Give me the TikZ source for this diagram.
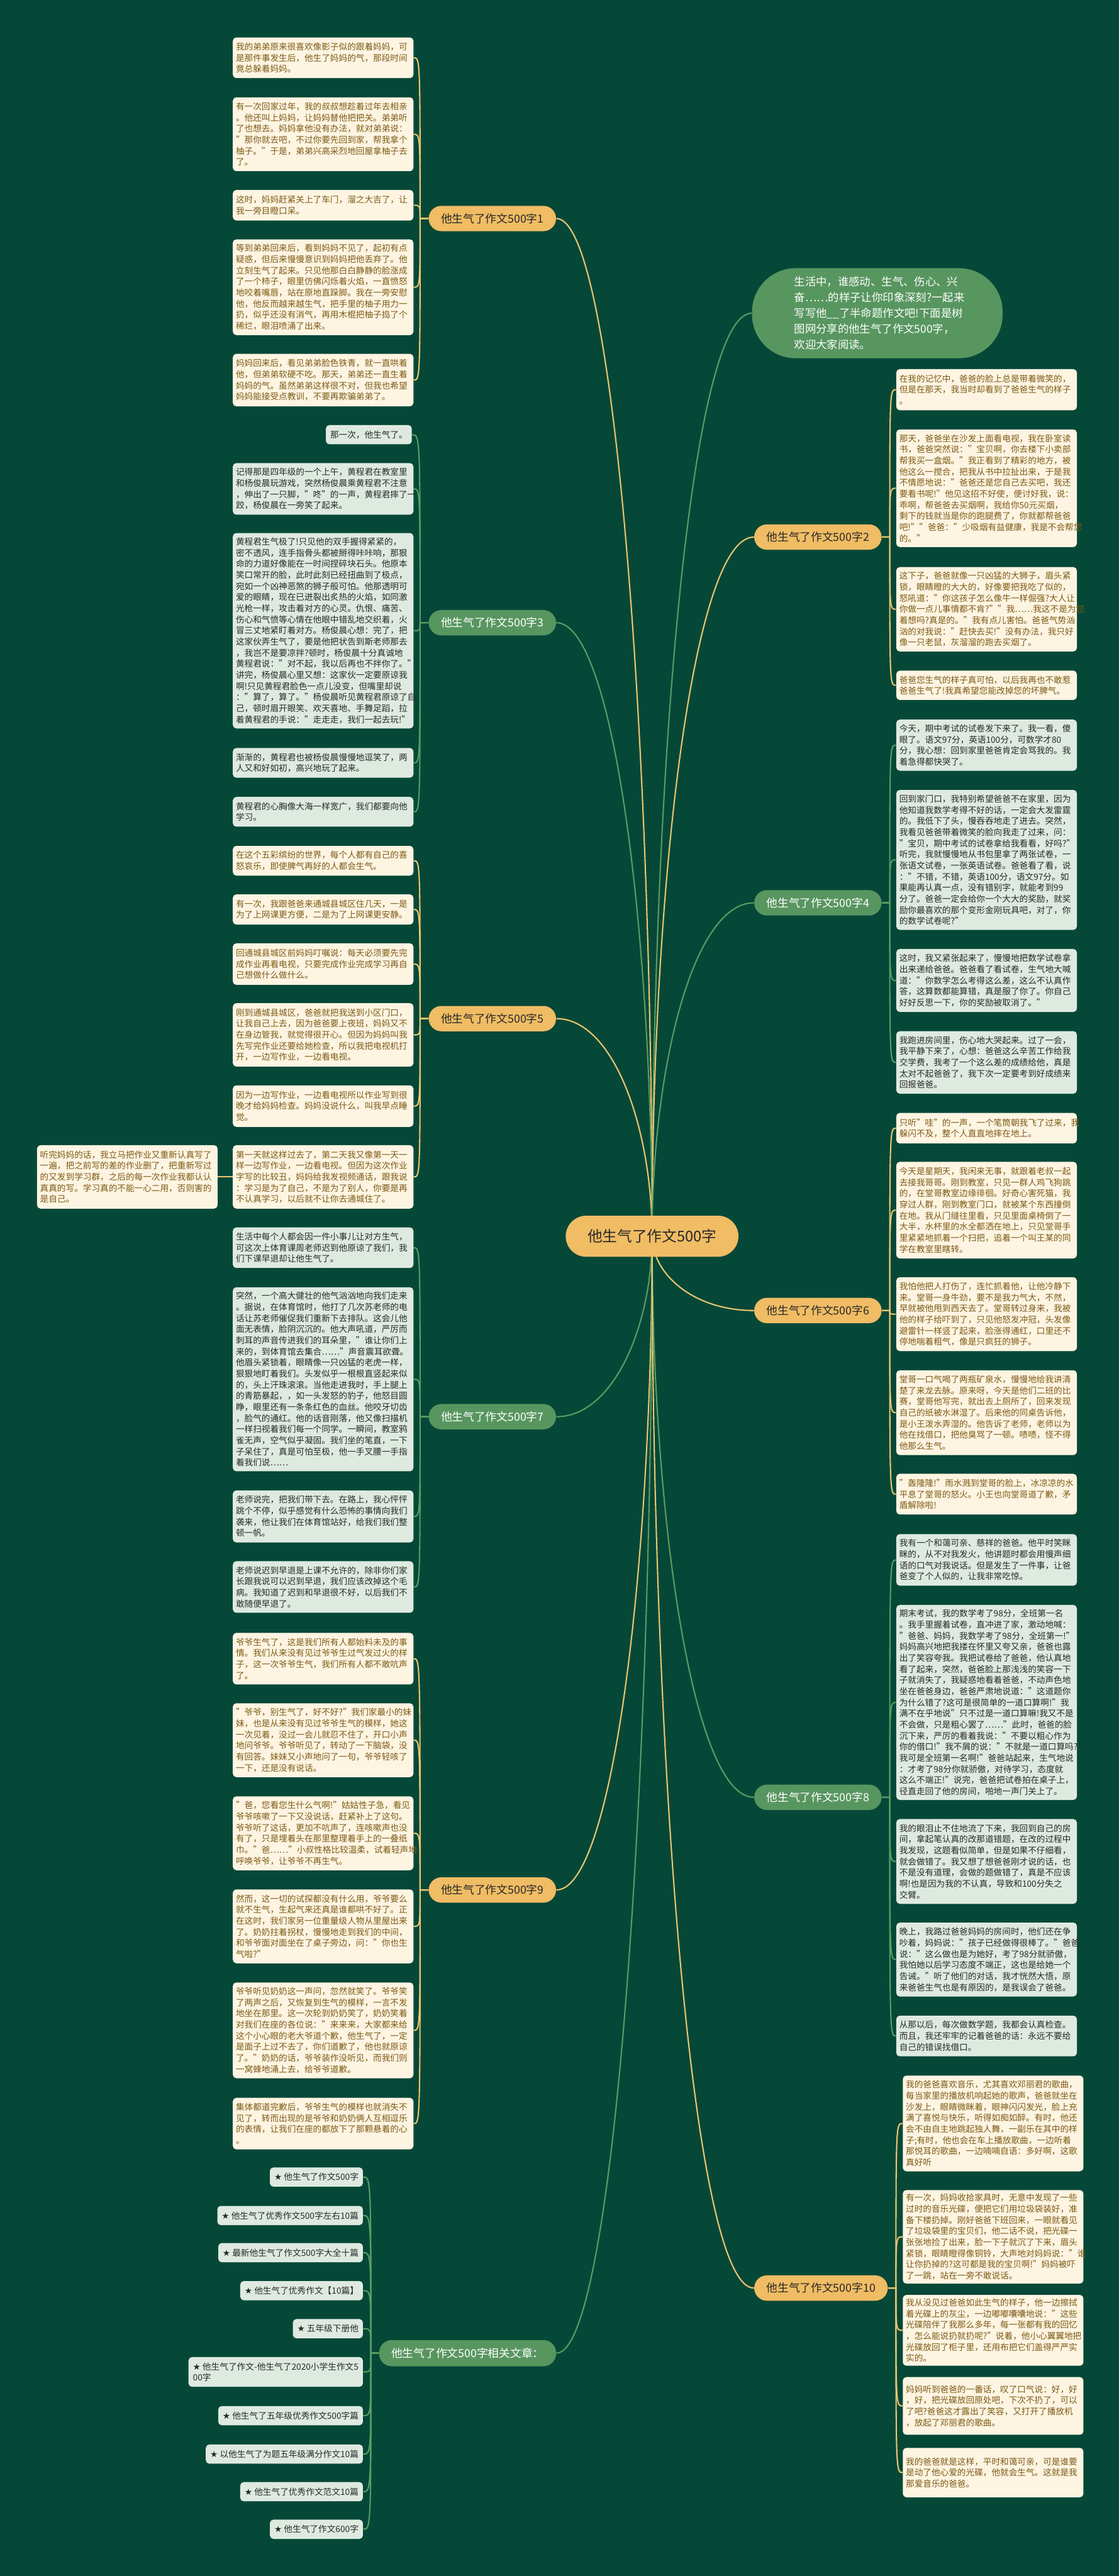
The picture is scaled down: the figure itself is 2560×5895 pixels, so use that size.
\documentclass[tikz,border=0pt]{standalone}
\usepackage{fontspec}
\setmainfont{Noto Sans CJK SC}
\newfontfamily\djv{DejaVu Sans}
\usetikzlibrary{calc}
\pgfdeclarelayer{back}\pgfdeclarelayer{bg}\pgfsetlayers{back,bg,main}
\definecolor{bgc}{RGB}{6,72,56}
\definecolor{onode}{RGB}{240,188,100}
\definecolor{oline}{RGB}{236,198,112}
\definecolor{gnode}{RGB}{88,150,96}
\definecolor{gline}{RGB}{92,156,100}
\definecolor{lcream}{RGB}{253,244,226}
\definecolor{lgreen}{RGB}{222,234,224}
\definecolor{tbrown}{RGB}{125,90,20}
\definecolor{tdark}{RGB}{40,40,40}
\newcommand\leaffnt{\fontsize{5.58pt}{7.23pt}\selectfont}
\newcommand\brfnt{\fontsize{7.26pt}{8.5pt}\selectfont}
\newcommand\cenfnt{\fontsize{9.7pt}{11pt}\selectfont}
\newcommand\relfnt{\fontsize{5.6pt}{7.1pt}\selectfont}
\newcommand\intfnt{\fontsize{7.11pt}{10.24pt}\selectfont}
\newcommand\st{{\djv ★}\ }
\tikzset{
 leafo/.style={fill=lcream, text=tbrown, rounded corners=0.08cm, text width=3.99cm, inner xsep=0.07cm, inner ysep=0pt, align=left, font=\leaffnt, anchor=north west},
 leafg/.style={leafo, fill=lgreen, text=tdark},
 bro/.style={fill=onode, text=tdark, rounded corners=0.29cm, minimum height=0.58cm, inner xsep=0.28cm, inner ysep=0pt, font=\brfnt},
 brg/.style={bro, fill=gnode, text=white},
 relitem/.style={fill=lgreen, text=tdark, rounded corners=0.08cm, minimum height=0.44cm, inner xsep=0.1cm, inner ysep=0pt, anchor=east, align=left, font=\relfnt},
 ocon/.style={draw=oline, line width=0.85pt},
 gcon/.style={draw=gline, line width=0.85pt}
}
\begin{document}
\begin{tikzpicture}[x=0.01cm,y=-0.01cm]
\useasboundingbox (0,0) rectangle (2560,5895);
\begin{pgfonlayer}{back}
\fill[bgc] (0,0) rectangle (2560,5895);
\end{pgfonlayer}

% center
\node[fill=onode, text=tdark, rounded corners=0.47cm, minimum height=0.94cm, minimum width=3.95cm, inner ysep=0pt, font=\cenfnt] (C) at (1492,2829) {他生气了作文500字};

% intro bubble
\node[fill=gnode, text=white, rounded corners=1.0cm, anchor=north west, minimum width=5.73cm, minimum height=2.06cm, text width=3.8cm, inner xsep=0.965cm, inner ysep=0pt, align=left, font=\intfnt] (Intro) at (1720,613) {生活中，谁感动、生气、伤心、兴\\奋……的样子让你印象深刻?一起来\\写写他\_\_了半命题作文吧!下面是树\\图网分享的他生气了作文500字，\\欢迎大家阅读。};

% branch nodes
\node[bro, anchor=east] (B1) at (1273,500) {他生气了作文500字1};
\node[brg, anchor=east] (B3) at (1273,1425) {他生气了作文500字3};
\node[bro, anchor=east] (B5) at (1273,2331) {他生气了作文500字5};
\node[brg, anchor=east] (B7) at (1273,3242) {他生气了作文500字7};
\node[bro, anchor=east] (B9) at (1273,4325) {他生气了作文500字9};
\node[brg, anchor=east, minimum height=0.60cm] (Rel) at (1273,5385) {他生气了作文500字相关文章：};
\node[bro, anchor=west] (B2) at (1725,1229) {他生气了作文500字2};
\node[brg, anchor=west] (B4) at (1725,2066) {他生气了作文500字4};
\node[bro, anchor=west] (B6) at (1725,2999) {他生气了作文500字6};
\node[brg, anchor=west] (B8) at (1725,4113) {他生气了作文500字8};
\node[bro, anchor=west] (B10) at (1725,5236) {他生气了作文500字10};

% branch 1
\node[leafo, minimum height=0.93cm] (L1a) at (532,85) {我的弟弟原来很喜欢像影子似的跟着妈妈，可\\是那件事发生后，他生了妈妈的气，那段时间\\竟总躲着妈妈。};
\node[leafo, minimum height=1.69cm] (L1b) at (532,222) {有一次回家过年，我的叔叔想趁着过年去相亲\\。他还叫上妈妈，让妈妈替他把把关。弟弟听\\了也想去。妈妈拿他没有办法，就对弟弟说：\\"那你就去吧，不过你要先回到家，帮我拿个\\柚子。"于是，弟弟兴高采烈地回屋拿柚子去\\了。};
\node[leafo, minimum height=0.70cm] (L1c) at (532,434) {这时，妈妈赶紧关上了车门，溜之大吉了，让\\我一旁目瞪口呆。};
\node[leafo, minimum height=2.19cm] (L1d) at (532,547) {等到弟弟回来后，看到妈妈不见了，起初有点\\疑惑，但后来慢慢意识到妈妈把他丢弃了。他\\立刻生气了起来。只见他那白白静静的脸涨成\\了一个柿子，眼里仿佛闪烁着火焰，一直愤怒\\地咬着嘴唇，站在原地直跺脚。我在一旁安慰\\他，他反而越来越生气，把手里的柚子用力一\\扔，似乎还没有消气，再用木棍把柚子捣了个\\稀烂，眼泪喷涌了出来。};
\node[leafo, minimum height=1.20cm] (L1e) at (532,809) {妈妈回来后，看见弟弟脸色铁青，就一直哄着\\他，但弟弟软硬不吃。那天，弟弟还一直生着\\妈妈的气。虽然弟弟这样很不对，但我也希望\\妈妈能接受点教训，不要再欺骗弟弟了。};

% branch 3
\node[leafg, anchor=north east, text width={}, minimum height=0.44cm, inner xsep=0.1cm] (L3a) at (943,972) {那一次，他生气了。};
\node[leafg, minimum height=1.18cm] (L3b) at (532,1059) {记得那是四年级的一个上午，黄程君在教室里\\和杨俊晨玩游戏，突然杨俊晨乘黄程君不注意\\，伸出了一只脚，"咚"的一声，黄程君摔了一\\跤，杨俊晨在一旁笑了起来。};
\node[leafg, minimum height=4.47cm] (L3c) at (532,1219) {黄程君生气极了!只见他的双手握得紧紧的，\\密不透风，连手指骨头都被掰得咔咔响，那狠\\命的力道好像能在一时间捏碎块石头。他原本\\笑口常开的脸，此时此刻已经扭曲到了极点，\\宛如一个凶神恶煞的狮子般可怕。他那透明可\\爱的眼睛，现在已迸裂出炙热的火焰，如同激\\光枪一样，攻击着对方的心灵。仇恨、痛苦、\\伤心和气愤等心情在他眼中错乱地交织着，火\\冒三丈地紧盯着对方。杨俊晨心想：完了，把\\这家伙弄生气了，要是他把状告到斯老师那去\\，我岂不是要凉拌?顿时，杨俊晨十分真诚地\\黄程君说："对不起，我以后再也不拌你了。"\\讲完，杨俊晨心里又想：这家伙一定要原谅我\\啊!只见黄程君脸色一点儿没变，但嘴里却说\\："算了，算了。"杨俊晨听见黄程君原谅了自\\己，顿时眉开眼笑、欢天喜地、手舞足蹈，拉\\着黄程君的手说："走走走，我们一起去玩!"};
\node[leafg, minimum height=0.68cm] (L3d) at (532,1711) {渐渐的，黄程君也被杨俊晨慢慢地逗笑了，两\\人又和好如初，高兴地玩了起来。};
\node[leafg, minimum height=0.68cm] (L3e) at (532,1823) {黄程君的心胸像大海一样宽广，我们都要向他\\学习。};

% branch 5
\node[leafo, minimum height=0.68cm] (L5a) at (532,1935) {在这个五彩缤纷的世界，每个人都有自己的喜\\怒哀乐，即使脾气再好的人都会生气。};
\node[leafo, minimum height=0.69cm] (L5b) at (532,2046) {有一次，我跟爸爸来通城县城区住几天，一是\\为了上网课更方便，二是为了上网课更安静。};
\node[leafo, minimum height=0.95cm] (L5c) at (532,2158) {回通城县城区前妈妈叮嘱说：每天必须要先完\\成作业再看电视，只要完成作业完成学习再自\\己想做什么做什么。};
\node[leafo, minimum height=1.45cm] (L5d) at (532,2295) {刚到通城县城区，爸爸就把我送到小区门口，\\让我自己上去，因为爸爸要上夜班，妈妈又不\\在身边管我，就觉得很开心。但因为妈妈叫我\\先写完作业还要给她检查，所以我把电视机打\\开，一边写作业，一边看电视。};
\node[leafo, minimum height=0.95cm] (L5e) at (532,2483) {因为一边写作业，一边看电视所以作业写到很\\晚才给妈妈检查。妈妈没说什么，叫我早点睡\\觉。};
\node[leafo, minimum height=1.45cm] (L5f) at (532,2620) {第一天就这样过去了，第二天我又像第一天一\\样一边写作业，一边看电视。但因为这次作业\\字写的比较丑，妈妈给我发视频通话，跟我说\\：学习是为了自己，不是为了别人，你要是再\\不认真学习，以后就不让你去通城住了。};
\node[leafo, minimum height=1.45cm] (Far) at (84,2620) {听完妈妈的话，我立马把作业又重新认真写了\\一遍，把之前写的差的作业删了，把重新写过\\的又发到学习群，之后的每一次作业我都认认\\真真的写。学习真的不能一心二用，否则害的\\是自己。};

% branch 7
\node[leafg, minimum height=0.93cm] (L7a) at (532,2808) {生活中每个人都会因一件小事儿让对方生气，\\可这次上体育课周老师迟到他原谅了我们，我\\们下课早退却让他生气了。};
\node[leafg, minimum height=4.21cm] (L7b) at (532,2945) {突然，一个高大健壮的他气汹汹地向我们走来\\。据说，在体育馆时，他打了几次苏老师的电\\话让苏老师催促我们重新下去排队。这会儿他\\面无表情，脸阴沉沉的。他大声吼道，严厉而\\刺耳的声音传进我们的耳朵里，"谁让你们上\\来的，到体育馆去集合……"声音震耳欲聋。\\他眉头紧锁着，眼睛像一只凶猛的老虎一样，\\狠狠地盯着我们。头发似乎一根根直竖起来似\\的，头上汗珠滚滚。当他走进我时，手上腿上\\的青筋暴起，，如一头发怒的豹子，他怒目圆\\睁，眼里还有一条条红色的血丝。他咬牙切齿\\，脸气的通红。他的话音刚落，他又像扫描机\\一样扫视着我们每一个同学。一瞬间，教室鸦\\雀无声，空气似乎凝固。我们坐的笔直，一下\\子呆住了，真是可怕至极，他一手叉腰一手指\\着我们说……};
\node[leafg, minimum height=1.19cm] (L7c) at (532,3410) {老师说完，把我们带下去。在路上，我心怦怦\\跳个不停，似乎感觉有什么恐怖的事情向我们\\袭来，他让我们在体育馆站好，给我们我们整\\顿一帆。};
\node[leafg, minimum height=1.18cm] (L7d) at (532,3572) {老师说迟到早退是上课不允许的，除非你们家\\长跟我说可以迟到早退，我们应该改掉这个毛\\病。我知道了迟到和早退很不好，以后我们不\\敢随便早退了。};

% branch 9
\node[leafo, minimum height=1.18cm] (L9a) at (532,3736) {爷爷生气了，这是我们所有人都始料未及的事\\情。我们从来没有见过爷爷生过气发过火的样\\子，这一次爷爷生气，我们所有人都不敢吭声\\了。};
\node[leafo, minimum height=1.69cm] (L9b) at (532,3897) {"爷爷，别生气了，好不好?"我们家最小的妹\\妹，也是从来没有见过爷爷生气的模样，她这\\一次见着，没过一会儿就忍不住了，开口小声\\地问爷爷。爷爷听见了，转动了一下脑袋，没\\有回答。妹妹又小声地问了一句，爷爷轻咳了\\一下，还是没有说话。};
\node[leafo, minimum height=1.69cm] (L9c) at (532,4110) {"爸，您看您生什么气啊!"姑姑性子急，看见\\爷爷咳嗽了一下又没说话，赶紧补上了这句。\\爷爷听了这话，更加不吭声了，连咳嗽声也没\\有了，只是埋着头在那里整理着手上的一叠纸\\巾。"爸……"小叔性格比较温柔，试着轻声地\\呼唤爷爷，让爷爷不再生气。};
\node[leafo, minimum height=1.69cm] (L9d) at (532,4323) {然而，这一切的试探都没有什么用，爷爷要么\\就不生气，生起气来还真是谁都哄不好了。正\\在这时，我们家另一位重量级人物从里屋出来\\了。奶奶拄着拐杖，慢慢地走到我们的中间，\\和爷爷面对面坐在了桌子旁边，问："你也生\\气啦?"};
\node[leafo, minimum height=2.19cm] (L9e) at (532,4536) {爷爷听见奶奶这一声问，忽然就笑了。爷爷笑\\了两声之后，又恢复到生气的模样，一言不发\\地坐在那里。这一次轮到奶奶笑了，奶奶笑着\\对我们在座的各位说："来来来，大家都来给\\这个小心眼的老大爷道个歉，他生气了，一定\\是面子上过不去了，你们道歉了，他也就原谅\\了。"奶奶的话，爷爷装作没听见，而我们则\\一窝蜂地涌上去，给爷爷道歉。};
\node[leafo, minimum height=1.18cm] (L9f) at (532,4800) {集体都道完歉后，爷爷生气的模样也就消失不\\见了，转而出现的是爷爷和奶奶俩人互相逗乐\\的表情，让我们在座的都放下了那颗悬着的心\\。};

% related articles
\node[relitem] (S1) at (831,4982) {\st 他生气了作文500字};
\node[relitem] (S2) at (831,5070) {\st 他生气了优秀作文500字左右10篇};
\node[relitem] (S3) at (831,5155) {\st 最新他生气了作文500字大全十篇};
\node[relitem] (S4) at (831,5242) {\st 他生气了优秀作文【10篇】};
\node[relitem] (S5) at (831,5329) {\st 五年级下册他};
\node[relitem, minimum height=0.68cm] (S6) at (831,5428) {\st 他生气了作文-他生气了2020小学生作文5\\00字};
\node[relitem] (S7) at (831,5528) {\st 他生气了五年级优秀作文500字篇};
\node[relitem] (S8) at (831,5616) {\st 以他生气了为题五年级满分作文10篇};
\node[relitem] (S9) at (831,5702) {\st 他生气了优秀作文范文10篇};
\node[relitem] (S10) at (831,5788) {\st 他生气了作文600字};

% branch 2
\node[leafo, minimum height=0.94cm] (R2a) at (2050,844) {在我的记忆中，爸爸的脸上总是带着微笑的，\\但是在那天，我当时却看到了爸爸生气的样子\\。};
\node[leafo, minimum height=2.69cm] (R2b) at (2050,982) {那天，爸爸坐在沙发上面看电视，我在卧室读\\书，爸爸突然说："宝贝啊，你去楼下小卖部\\帮我买一盒烟。"我正看到了精彩的地方，被\\他这么一搅合，把我从书中拉扯出来，于是我\\不情愿地说："爸爸还是您自己去买吧，我还\\要看书呢!"他见这招不好使，便讨好我，说：\\乖啊，帮爸爸去买烟啊，我给你50元买烟，\\剩下的钱就当是你的跑腿费了，你就都帮爸爸\\吧!""爸爸："少吸烟有益健康，我是不会帮您\\的。"};
\node[leafo, minimum height=1.93cm] (R2c) at (2050,1297) {这下子，爸爸就像一只凶猛的大狮子，眉头紧\\锁，眼睛瞪的大大的，好像要把我吃了似的，\\怒吼道："你这孩子怎么像牛一样倔强?大人让\\你做一点儿事情都不肯?""我……我这不是为您\\着想吗?真是的。"我有点儿害怕。爸爸气势汹\\汹的对我说："赶快去买!"没有办法，我只好\\像一只老鼠，灰溜溜的跑去买烟了。};
\node[leafo, minimum height=0.67cm] (R2d) at (2050,1534) {爸爸您生气的样子真可怕，以后我再也不敢惹\\爸爸生气了!我真希望您能改掉您的坏脾气。};

% branch 4
\node[leafg, minimum height=1.17cm] (R4a) at (2050,1646) {今天，期中考试的试卷发下来了。我一看，傻\\眼了。语文97分，英语100分，可数学才80\\分，我心想：回到家里爸爸肯定会骂我的。我\\着急得都快哭了。};
\node[leafg, minimum height=3.20cm] (R4b) at (2050,1807) {回到家门口，我特别希望爸爸不在家里，因为\\他知道我数学考得不好的话，一定会大发雷霆\\的。我低下了头，慢吞吞地走了进去。突然，\\我看见爸爸带着微笑的脸向我走了过来，问：\\"宝贝，期中考试的试卷拿给我看看，好吗?"\\听完，我就慢慢地从书包里拿了两张试卷，一\\张语文试卷，一张英语试卷。爸爸看了看，说\\："不错，不错，英语100分，语文97分。如\\果能再认真一点，没有错别字，就能考到99\\分了。爸爸一定会给你一个大大的奖励，就奖\\励你最喜欢的那个变形金刚玩具吧，对了，你\\的数学试卷呢?"};
\node[leafg, minimum height=1.44cm] (R4c) at (2050,2171) {这时，我又紧张起来了，慢慢地把数学试卷拿\\出来递给爸爸。爸爸看了看试卷，生气地大喊\\道："你数学怎么考得这么差，这么不认真作\\答，这算数都能算错，真是服了你了。你自己\\好好反思一下，你的奖励被取消了。"};
\node[leafg, minimum height=1.43cm] (R4d) at (2050,2359) {我跑进房间里，伤心地大哭起来。过了一会，\\我平静下来了，心想：爸爸这么辛苦工作给我\\交学费，我考了一个这么差的成绩给他，真是\\太对不起爸爸了，我下次一定要考到好成绩来\\回报爸爸。};

% branch 6
\node[leafo, minimum height=0.70cm] (R6a) at (2050,2546) {只听"哇"的一声，一个笔筒朝我飞了过来，我\\躲闪不及，整个人直直地摔在地上。};
\node[leafo, minimum height=2.21cm] (R6b) at (2050,2658) {今天是星期天，我闲来无事，就跟着老叔一起\\去接我哥哥。刚到教室，只见一群人鸡飞狗跳\\的，在堂哥教室边缘徘徊。好奇心害死猫，我\\穿过人群，刚到教室门口，就被某个东西撞倒\\在地。我从门缝往里看，只见里面桌椅倒了一\\大半，水杯里的水全都洒在地上，只见堂哥手\\里紧紧地抓着一个扫把，追着一个叫王某的同\\学在教室里瞎转。};
\node[leafo, minimum height=1.69cm] (R6c) at (2050,2922) {我怕他把人打伤了，连忙抓着他，让他冷静下\\来。堂哥一身牛劲，要不是我力气大，不然，\\早就被他甩到西天去了。堂哥转过身来，我被\\他的样子给吓到了，只见他怒发冲冠，头发像\\避雷针一样竖了起来，脸涨得通红，口里还不\\停地喘着粗气，像是只疯狂的狮子。};
\node[leafo, minimum height=1.94cm] (R6d) at (2050,3135) {堂哥一口气喝了两瓶矿泉水，慢慢地给我讲清\\楚了来龙去脉。原来呀，今天是他们二班的比\\赛，堂哥他写完，就出去上厕所了，回来发现\\自己的纸被水淋湿了。后来他的同桌告诉他，\\是小王泼水弄湿的。他告诉了老师，老师以为\\他在找借口，把他臭骂了一顿。啧啧，怪不得\\他那么生气。};
\node[leafo, minimum height=0.93cm] (R6e) at (2050,3372) {"轰隆隆!"雨水溅到堂哥的脸上，冰凉凉的水\\平息了堂哥的怒火。小王也向堂哥道了歉，矛\\盾解除啦!};

% branch 8
\node[leafg, minimum height=1.18cm] (R8a) at (2050,3510) {我有一个和蔼可亲、慈祥的爸爸。他平时笑眯\\眯的，从不对我发火，他讲题时都会用慢声细\\语的口气对我说话。但是发生了一件事，让爸\\爸变了个人似的，让我非常吃惊。};
\node[leafg, minimum height=4.46cm] (R8b) at (2050,3672) {期末考试，我的数学考了98分，全班第一名\\。我手里握着试卷，直冲进了家，激动地喊：\\"爸爸、妈妈，我数学考了98分，全班第一!"\\妈妈高兴地把我搂在怀里又夸又亲，爸爸也露\\出了笑容夸我。我把试卷给了爸爸，他认真地\\看了起来，突然，爸爸脸上那浅浅的笑容一下\\子就消失了，我疑惑地看着爸爸，不动声色地\\坐在爸爸身边，爸爸严肃地说道："这道题你\\为什么错了?这可是很简单的一道口算啊!"我\\满不在乎地说"只不过是一道口算嘛!我又不是\\不会做，只是粗心罢了……"此时，爸爸的脸\\沉下来，严厉的看着我说："不要以粗心作为\\你的借口!"我不屑的说："不就是一道口算吗?\\我可是全班第一名啊!"爸爸站起来，生气地说\\：才考了98分你就骄傲，对待学习，态度就\\这么不端正!"说完，爸爸把试卷拍在桌子上，\\径直走回了他的房间，啪地一声门关上了。};
\node[leafg, minimum height=1.94cm] (R8c) at (2050,4162) {我的眼泪止不住地流了下来，我回到自己的房\\间，拿起笔认真的改那道错题，在改的过程中\\我发现，这题看似简单，但是如果不仔细看，\\就会做错了。我又想了想爸爸刚才说的话，也\\不是没有道理，会做的题做错了，真是不应该\\啊!也是因为我的不认真，导致和100分失之\\交臂。};
\node[leafg, minimum height=1.69cm] (R8d) at (2050,4399) {晚上，我路过爸爸妈妈的房间时，他们还在争\\吵着，妈妈说："孩子已经做得很棒了。"爸爸\\说："这么做也是为她好，考了98分就骄傲，\\我怕她以后学习态度不端正，这也是给她一个\\告诫。"听了他们的对话，我才恍然大悟，原\\来爸爸生气也是有原因的，是我误会了爸爸。};
\node[leafg, minimum height=0.93cm] (R8e) at (2050,4612) {从那以后，每次做数学题，我都会认真检查。\\而且，我还牢牢的记着爸爸的话：永远不要给\\自己的错误找借口。};

% branch 10
\node[leafo, minimum height=2.19cm] (R10a) at (2065,4749) {我的爸爸喜欢音乐，尤其喜欢邓丽君的歌曲，\\每当家里的播放机响起她的歌声，爸爸就坐在\\沙发上，眼睛微眯着，眼神闪闪发光，脸上充\\满了喜悦与快乐，听得如痴如醉。有时，他还\\会不由自主地跳起独人舞，一副乐在其中的样\\子;有时，他也会在车上播放歌曲，一边听着\\那悦耳的歌曲，一边喃喃自语：多好啊，这歌\\真好听};
\node[leafo, minimum height=2.14cm] (R10b) at (2065,5011) {有一次，妈妈收拾家具时，无意中发现了一些\\过时的音乐光碟，便把它们用垃圾袋装好，准\\备下楼扔掉。刚好爸爸下班回来，一眼就看见\\了垃圾袋里的宝贝们，他二话不说，把光碟一\\张张地捡了出来，脸一下子就沉了下来，眉头\\紧锁，眼睛瞪得像铜铃，大声地对妈妈说："谁\\让你扔掉的?这可都是我的宝贝啊!"妈妈被吓\\了一跳，站在一旁不敢说话。};
\node[leafo, minimum height=1.62cm] (R10c) at (2065,5251) {我从没见过爸爸如此生气的样子，他一边擦拭\\着光碟上的灰尘，一边嘟嘟囔囔地说："这些\\光碟陪伴了我那么多年，每一张都有我的回忆\\，怎么能说扔就扔呢?"说着，他小心翼翼地把\\光碟放回了柜子里，还用布把它们盖得严严实\\实的。};
\node[leafo, minimum height=1.32cm] (R10d) at (2065,5439) {妈妈听到爸爸的一番话，叹了口气说：好，好\\，好，把光碟放回原处吧，下次不扔了，可以\\了吧?爸爸这才露出了笑容，又打开了播放机\\，放起了邓丽君的歌曲。};
\node[leafo, minimum height=1.13cm] (R10e) at (2065,5601) {我的爸爸就是这样，平时和蔼可亲，可是谁要\\是动了他心爱的光碟，他就会生气。这就是我\\那爱音乐的爸爸。};

% connectors
\begin{pgfonlayer}{bg}
\draw[ocon] (B1.east) .. controls +(130,0) and +(0,-1165) .. (C.center);
\draw[gcon] (B3.east) .. controls +(130,0) and +(0,-702) .. (C.center);
\draw[ocon] (B5.east) .. controls +(130,0) and +(0,-249) .. (C.center);
\draw[gcon] (B7.east) .. controls +(130,0) and +(0,206) .. (C.center);
\draw[ocon] (B9.east) .. controls +(130,0) and +(0,748) .. (C.center);
\draw[gcon] (Rel.east) .. controls +(130,0) and +(0,1278) .. (C.center);
\draw[gcon] (Intro.west) .. controls +(-140,0) and +(0,-1056) .. (C.center);
\draw[ocon] (B2.west) .. controls +(-140,0) and +(0,-800) .. (C.center);
\draw[gcon] (B4.west) .. controls +(-140,0) and +(0,-381) .. (C.center);
\draw[ocon] (B6.west) .. controls +(-140,0) and +(0,85) .. (C.center);
\draw[gcon] (B8.west) .. controls +(-140,0) and +(0,642) .. (C.center);
\draw[ocon] (B10.west) .. controls +(-140,0) and +(0,1203) .. (C.center);

\coordinate (J1) at ($(B1.west)+(-19,0)$);
\coordinate (J3) at ($(B3.west)+(-19,0)$);
\coordinate (J5) at ($(B5.west)+(-19,0)$);
\coordinate (J7) at ($(B7.west)+(-19,0)$);
\coordinate (J9) at ($(B9.west)+(-19,0)$);
\coordinate (JR) at ($(Rel.west)+(-18,0)$);
\coordinate (J2) at ($(B2.east)+(18,0)$);
\coordinate (J4) at ($(B4.east)+(18,0)$);
\coordinate (J6) at ($(B6.east)+(18,0)$);
\coordinate (J8) at ($(B8.east)+(18,0)$);
\coordinate (J10) at ($(B10.east)+(18,0)$);

\foreach \l in {L1a,L1b,L1c,L1d,L1e} \draw[ocon] (B1.west) -- (J1) .. controls (J1 |- \l.east) .. (\l.east);
\foreach \l in {L3a,L3b,L3c,L3d,L3e} \draw[gcon] (B3.west) -- (J3) .. controls (J3 |- \l.east) .. (\l.east);
\foreach \l in {L5a,L5b,L5c,L5d,L5e,L5f} \draw[ocon] (B5.west) -- (J5) .. controls (J5 |- \l.east) .. (\l.east);
\foreach \l in {L7a,L7b,L7c,L7d} \draw[gcon] (B7.west) -- (J7) .. controls (J7 |- \l.east) .. (\l.east);
\foreach \l in {L9a,L9b,L9c,L9d,L9e,L9f} \draw[ocon] (B9.west) -- (J9) .. controls (J9 |- \l.east) .. (\l.east);
\foreach \l in {S1,S2,S3,S4,S5,S6,S7,S8,S9,S10} \draw[gcon] (Rel.west) -- (JR) .. controls (JR |- \l.east) .. (\l.east);
\foreach \l in {R2a,R2b,R2c,R2d} \draw[ocon] (B2.east) -- (J2) .. controls (J2 |- \l.west) .. (\l.west);
\foreach \l in {R4a,R4b,R4c,R4d} \draw[gcon] (B4.east) -- (J4) .. controls (J4 |- \l.west) .. (\l.west);
\foreach \l in {R6a,R6b,R6c,R6d,R6e} \draw[ocon] (B6.east) -- (J6) .. controls (J6 |- \l.west) .. (\l.west);
\foreach \l in {R8a,R8b,R8c,R8d,R8e} \draw[gcon] (B8.east) -- (J8) .. controls (J8 |- \l.west) .. (\l.west);
\foreach \l in {R10a,R10b,R10c,R10d,R10e} \draw[ocon] (B10.east) -- (J10) .. controls (J10 |- \l.west) .. (\l.west);
\draw[ocon] (L5f.west) -- (Far.east);
\end{pgfonlayer}
\end{tikzpicture}
\end{document}
